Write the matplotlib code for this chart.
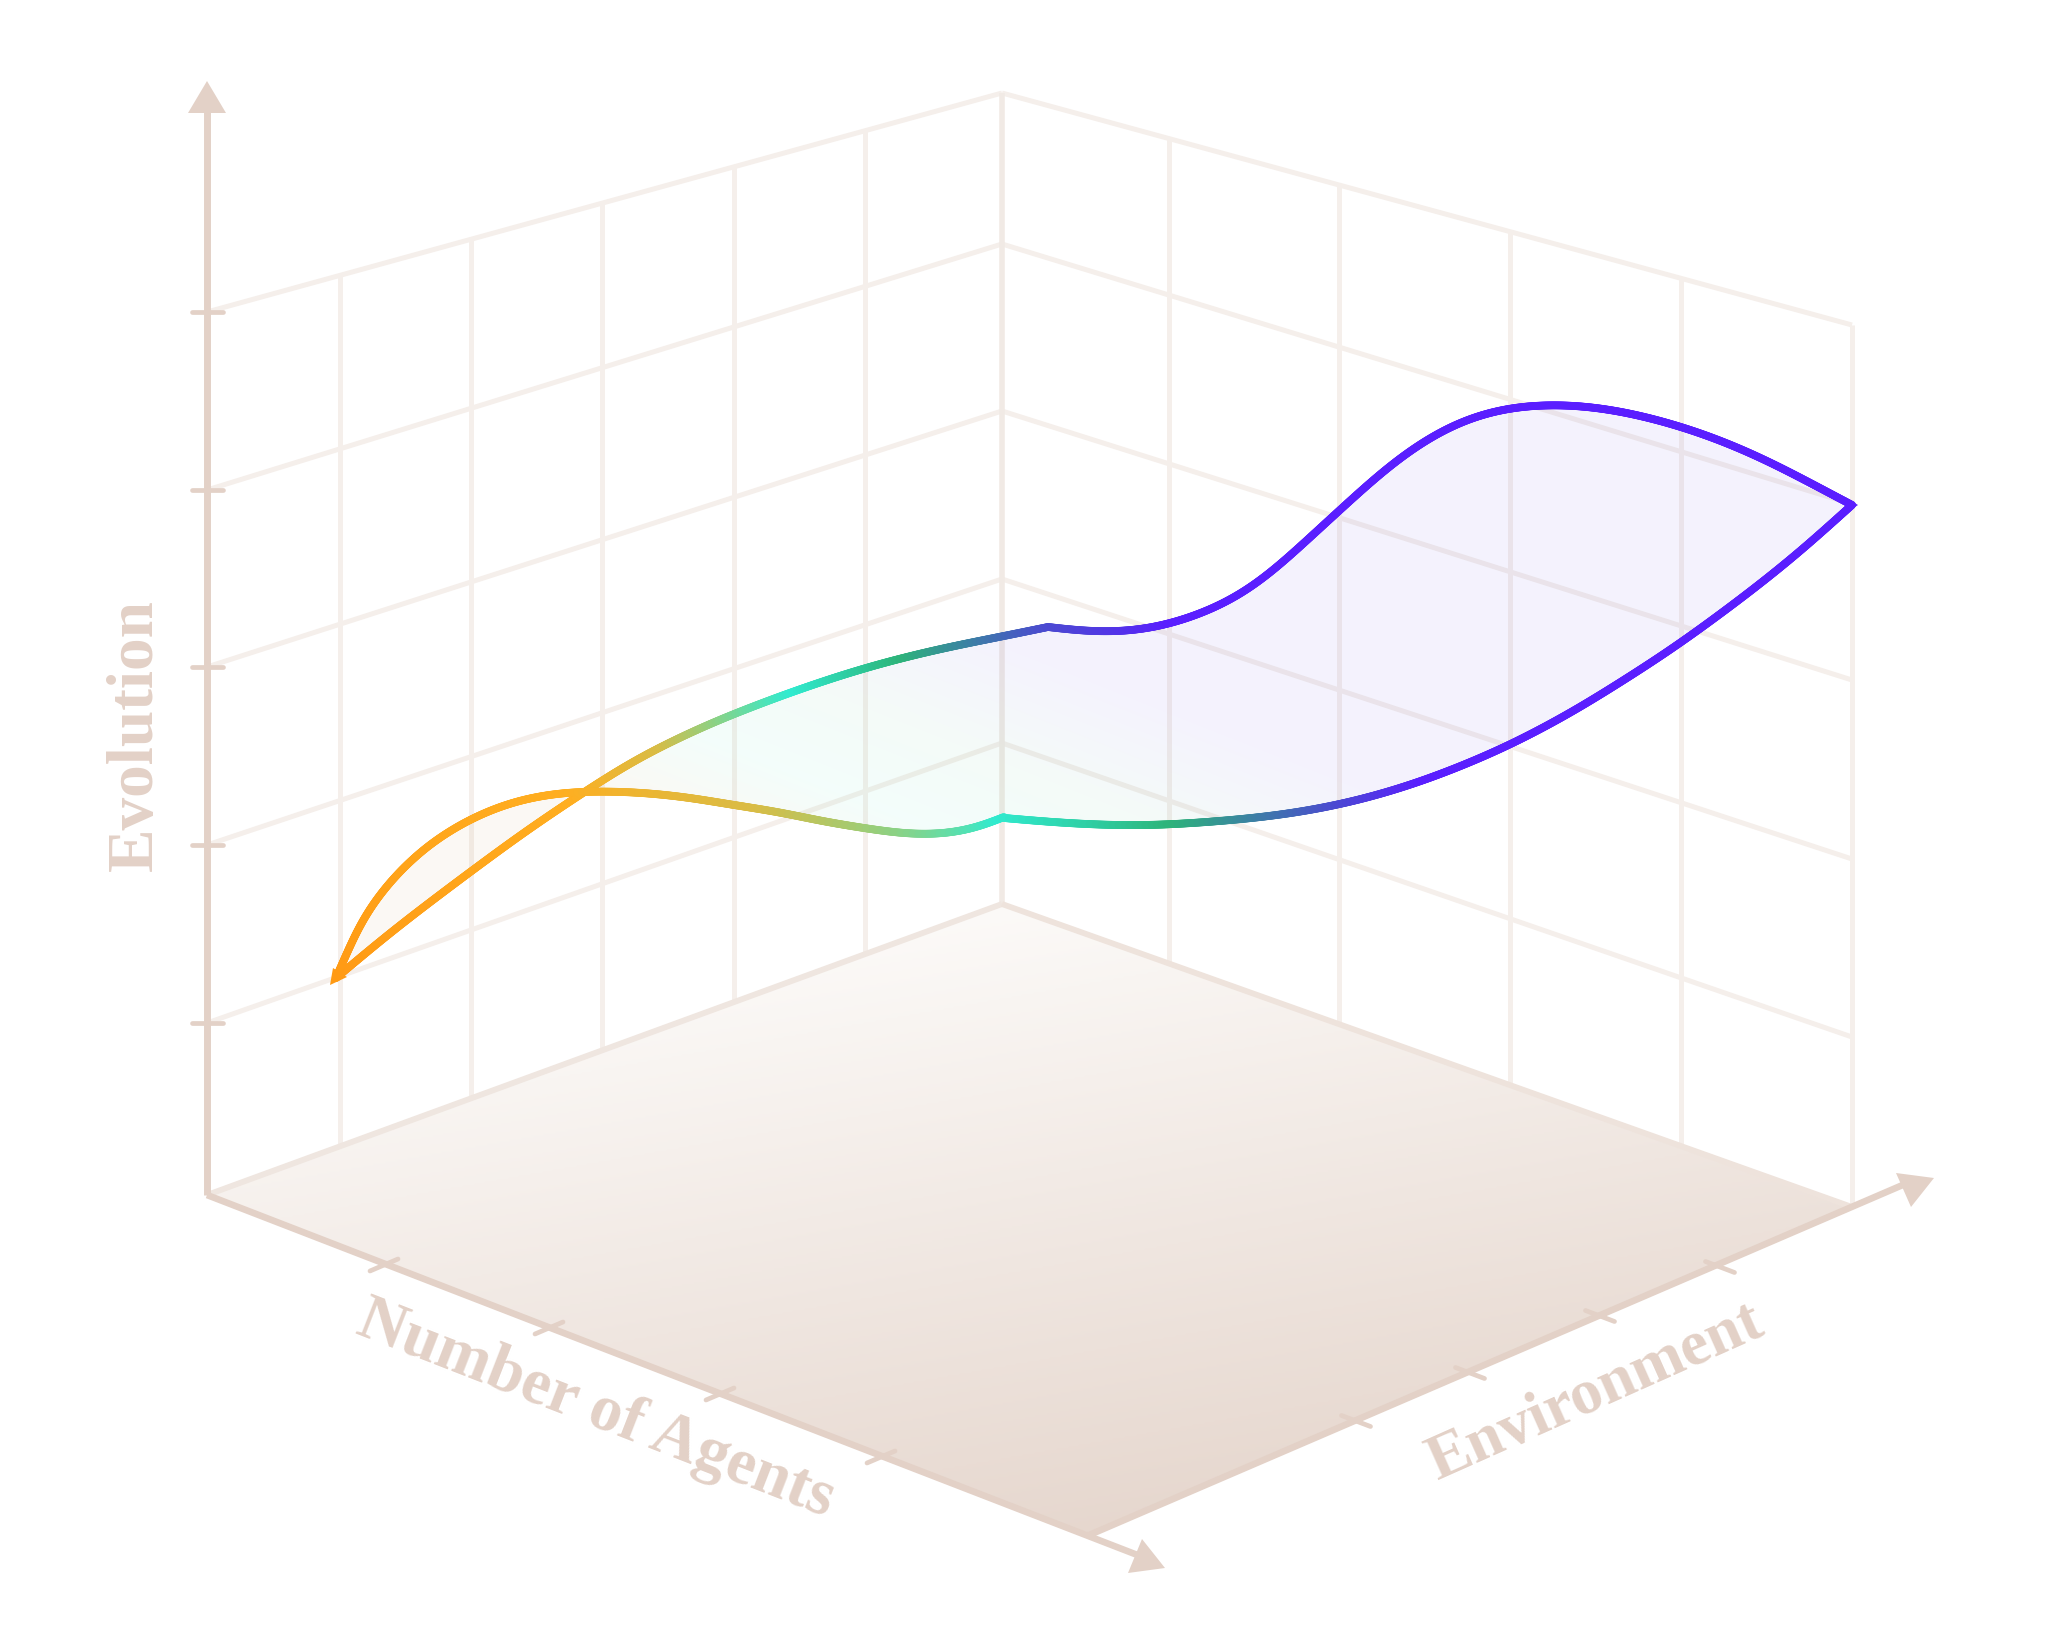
import numpy as np
import matplotlib.pyplot as plt
from matplotlib.collections import LineCollection
from matplotlib.colors import LinearSegmentedColormap
from matplotlib.patches import PathPatch, Polygon
from matplotlib.path import Path

origin = (207, 1195)
back = (1002, 904)
front = (1087, 1536)
right = (1852, 1207)
back_top = (1002, 93)
left_top = (207, 312)
right_top = (1852, 325)

left_levels = [1023, 845, 667, 490, 312]
back_levels = [743, 579, 411, 244, 93]
right_levels = [1037, 859, 680, 504, 325]
left_columns = [340, 471, 602, 734, 865]
right_columns = [1169, 1339, 1510, 1681, 1852]

agent_ticks = [(384, 1265), (549, 1328), (720, 1394), (881, 1457)]
env_ticks = [(1356, 1421), (1470, 1373), (1600, 1316), (1720, 1267)]

arch_x = [336, 360, 377, 400, 430, 467, 507, 547, 587, 637, 687, 733, 780, 820, 863, 903, 937, 967, 987, 1004]
arch_y = [978, 923, 897, 870, 843, 820, 803, 794, 791, 792, 797, 805, 812, 821, 828, 834, 835, 831, 825, 817]
rise_x = [336, 387, 430, 470, 527, 587, 637, 710, 780, 823, 867, 913, 957, 1000, 1048]
rise_y = [978, 935, 902, 872, 830, 790, 758, 723, 696, 681, 667, 655, 645, 637, 627]
crest_x = [1048, 1080, 1113, 1147, 1180, 1213, 1240, 1273, 1307, 1340, 1380, 1413, 1453, 1493, 1533, 1573, 1613, 1653, 1700, 1750, 1800, 1825, 1852]
crest_y = [627, 632, 633, 631, 622, 610, 597, 572, 540, 510, 473, 447, 423, 409, 404, 404, 409, 418, 432, 452, 477, 491, 505]
lower_x = [1004, 1047, 1097, 1147, 1197, 1247, 1290, 1340, 1390, 1440, 1507, 1573, 1640, 1681, 1750, 1800, 1852]
lower_y = [818, 822, 825, 826, 823, 819, 814, 805, 792, 775, 747, 712, 670, 643, 592, 552, 505]

axis_color = "#E3D1C7"
grid_color = "#F5EFEB"
edge_color = "#EFE6E0"
serif = ["Liberation Serif", "DejaVu Serif"]

stroke_stops = [(-653, "#FF9A14"), (-380, "#FFAE20"), (-290, "#D9BC45"), (-172, "#30EBD0"),
                (-85, "#2DB47A"), (17, "#4B4BD0"), (85, "#5A1EFF")]
t0, t1 = stroke_stops[0][0], stroke_stops[-1][0]
stroke_cmap = LinearSegmentedColormap.from_list(
    "stroke", [((t - t0) / (t1 - t0), c) for t, c in stroke_stops])


def smooth(xs, ys, sigma=32):
    # evens out the reading error, reflected at the ends so they stay put
    p = np.column_stack([xs, ys]).astype(float)
    s = np.r_[0, np.cumsum(np.hypot(*np.diff(p, axis=0).T))]
    u = np.arange(0, s[-1], 1.0)
    u = np.r_[u, s[-1]]
    q = np.column_stack([np.interp(u, s, p[:, 0]), np.interp(u, s, p[:, 1])])
    r = 3 * sigma
    pad = np.vstack([2 * q[0] - q[r:0:-1], q, 2 * q[-1] - q[-2:-r - 2:-1]])
    k = np.exp(-0.5 * (np.arange(-r, r + 1) / sigma) ** 2)
    k /= k.sum()
    return np.column_stack([np.convolve(pad[:, i], k, mode="valid") for i in range(2)])


def stroke(ax, pts):
    segs = np.stack([pts[:-1], pts[1:]], axis=1)
    mid = segs.mean(axis=1)
    t = 0.525 * mid[:, 0] - 0.85 * mid[:, 1]
    lc = LineCollection(segs, cmap=stroke_cmap, linewidths=2.8, capstyle="round", zorder=5)
    lc.set_array(t)
    lc.set_clim(t0, t1)
    ax.add_collection(lc)


def line(ax, a, b, color, lw, z=1, cap="butt"):
    ax.plot([a[0], b[0]], [a[1], b[1]], color=color, lw=lw, zorder=z, solid_capstyle=cap)


fig = plt.figure(figsize=(10.24, 8.19), dpi=200)
ax = fig.add_axes([0, 0, 1, 1])
ax.set_xlim(0, 2048)
ax.set_ylim(1638, 0)
ax.axis("off")

# walls
for ly, by in zip(left_levels, back_levels):
    line(ax, (207, ly), (1002, by), grid_color, 1.8)
for by, ry in zip(back_levels, right_levels):
    line(ax, (1002, by), (1852, ry), grid_color, 1.8)
for x in left_columns:
    f = (x - origin[0]) / (back[0] - origin[0])
    line(ax, (x, left_top[1] + f * (back_top[1] - left_top[1])),
         (x, origin[1] + f * (back[1] - origin[1])), grid_color, 1.8)
line(ax, back_top, back, "#F1EAE5", 2.0)
for x in right_columns:
    f = (x - back[0]) / (right[0] - back[0])
    line(ax, (x, back_top[1] + f * (right_top[1] - back_top[1])),
         (x, back[1] + f * (right[1] - back[1])), grid_color, 1.8)

# floor
yy, xx = np.mgrid[880:1560:2, 180:1880:2]
shade = np.clip(0.000273 * (xx - back[0]) + 0.001546 * (yy - back[1]), 0, 1)
floor_cmap = LinearSegmentedColormap.from_list("floor", ["#FCFAF8", "#E6D7CE"])
im = ax.imshow(shade, cmap=floor_cmap, extent=(180, 1880, 1560, 880), aspect="auto",
               vmin=0, vmax=1, zorder=2, interpolation="bilinear")
floor = Polygon([origin, back, right, front], closed=True, transform=ax.transData, fc="none", ec="none")
ax.add_patch(floor)
im.set_clip_path(floor)
ax.set_xlim(0, 2048)
ax.set_ylim(1638, 0)
line(ax, origin, back, edge_color, 2.1, 3)
line(ax, back, right, "#EEE3DC", 2.1, 3)

# ribbon fill
arch = smooth(arch_x, arch_y, 22)
rise = smooth(rise_x, rise_y)
crest = smooth(crest_x, crest_y)
lower = smooth(lower_x, lower_y)
outline = np.vstack([arch, lower, crest[::-1], rise[::-1]])
ribbon = PathPatch(Path(outline, closed=False), transform=ax.transData, fc="none", ec="none")
ax.add_patch(ribbon)

yy, xx = np.mgrid[380:1000:2, 320:1870:2]
u = 0.37 * xx - 0.93 * yy
fill_stops = np.array([-640, -510, -425, -340, -230])
fill_r = np.interp(u, fill_stops, [190, 190, 60, 70, 70])
fill_g = np.interp(u, fill_stops, [150, 150, 230, 190, 50])
fill_b = np.interp(u, fill_stops, [70, 70, 190, 140, 230])
rgba = np.dstack([fill_r / 255, fill_g / 255, fill_b / 255, np.full(u.shape, 0.06)])
fill_im = ax.imshow(rgba, extent=(320, 1870, 1000, 380), aspect="auto", zorder=4, interpolation="bilinear")
fill_im.set_clip_path(ribbon)
ax.set_xlim(0, 2048)
ax.set_ylim(1638, 0)

for pts in (rise, arch, lower, crest):
    stroke(ax, pts)
ax.add_patch(Polygon([(330, 985), (333, 968), (347, 977)], fc="#FF9A14", ec="none", zorder=6))
ax.add_patch(Polygon([(1858, 505), (1845, 497), (1846, 513)], fc="#5A1EFF", ec="none", zorder=6))

# axes
line(ax, origin, (207, 105), axis_color, 2.5, 7)
ax.add_patch(Polygon([(207, 81), (188, 113), (226, 113)], fc=axis_color, ec="none", zorder=7))
line(ax, origin, (1140, 1556), axis_color, 2.4, 7)
ax.add_patch(Polygon([(1165, 1568), (1142, 1539), (1128, 1573)], fc=axis_color, ec="none", zorder=7))
line(ax, front, (1905, 1184), axis_color, 2.4, 7)
ax.add_patch(Polygon([(1934, 1178), (1896, 1173), (1911, 1207)], fc=axis_color, ec="none", zorder=7))

for y in left_levels:
    line(ax, (192, y), (223, y), axis_color, 1.7, 7, "round")
for x, y in agent_ticks:
    line(ax, (x - 14, y + 6), (x + 14, y - 6), axis_color, 1.7, 7, "round")
for x, y in env_ticks:
    line(ax, (x - 14.5, y - 5.5), (x + 14.5, y + 5.5), axis_color, 1.7, 7, "round")

ax.text(136, 735, "Evolution", rotation=90, ha="center", va="center", rotation_mode="anchor",
        color=axis_color, fontsize=23.5, fontweight="bold", family=serif)
ax.text(596, 1410, "Number of Agents", rotation=-21.3, ha="center", va="center", rotation_mode="anchor",
        color=axis_color, fontsize=23.5, fontweight="bold", family=serif)
ax.text(1596, 1393, "Environment", rotation=24, ha="center", va="center", rotation_mode="anchor",
        color=axis_color, fontsize=23, fontweight="bold", family=serif)

fig.savefig("out.png", dpi=200)
